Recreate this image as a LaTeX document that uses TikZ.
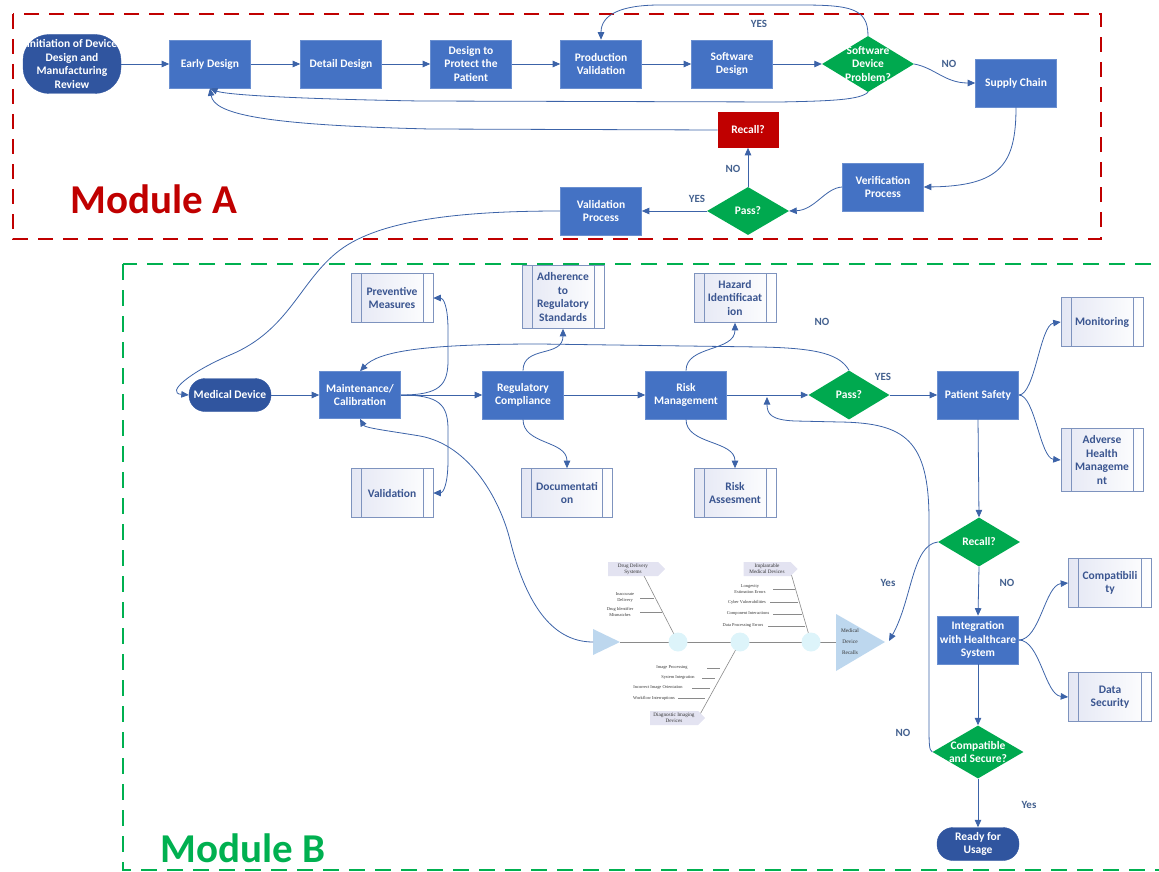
\documentclass[tikz,border=0pt]{standalone}
\usepackage{fontspec}
\setmainfont{Carlito}
\newfontfamily\fbfont{Liberation Serif}
\usetikzlibrary{arrows.meta,shapes.geometric,shapes.symbols}

\definecolor{boxblue}{HTML}{4472C4}
\definecolor{boxedge}{HTML}{6A8FD0}
\definecolor{stadium}{HTML}{30559F}
\definecolor{decgreen}{HTML}{00A94F}
\definecolor{recallred}{HTML}{C00000}
\definecolor{linkblue}{HTML}{3C63A8}
\definecolor{lbltext}{HTML}{44618F}
\definecolor{subedge}{HTML}{7E93BE}
\definecolor{subtext}{HTML}{3A5590}
\definecolor{subfill}{HTML}{E4E7F4}
\definecolor{modred}{HTML}{C00000}
\definecolor{modgreen}{HTML}{00B050}
\definecolor{fbblue}{HTML}{BDD7EE}
\definecolor{fbcirc}{HTML}{DDF4FA}
\definecolor{fbtagfill}{HTML}{E3E3F1}
\definecolor{fbline}{HTML}{8A8A8A}
\definecolor{fbink}{HTML}{333333}

\tikzset{
  boxfont/.style={font=\bfseries\fontsize{11.5}{13.6}\selectfont},
  proc/.style={rectangle, fill=boxblue, draw=boxedge, line width=0.6pt,
    minimum width=81pt, minimum height=48pt, inner sep=1pt,
    text=white, align=center, boxfont},
  startend/.style={rectangle, rounded corners=16pt, fill=stadium, draw=stadium,
    text=white, align=center, boxfont, inner sep=1pt},
  decision/.style={diamond, fill=decgreen, draw=none, inner sep=0pt},
  dtext/.style={text=white, boxfont, align=center},
  sub/.style={rectangle, draw=subedge, line width=0.6pt,
    left color=subfill, right color=white,
    minimum width=82pt, minimum height=49pt, inner sep=1pt,
    text=subtext, align=center, boxfont,
    path picture={\draw[subedge, line width=0.6pt]
      ([xshift=10pt]path picture bounding box.north west) --
      ([xshift=10pt]path picture bounding box.south west)
      ([xshift=-10pt]path picture bounding box.north east) --
      ([xshift=-10pt]path picture bounding box.south east);}},
  link/.style={draw=linkblue, line width=0.8pt, -{Triangle[length=7.5pt,width=6.5pt]}},
  lbl/.style={text=lbltext, font=\bfseries\fontsize{11}{12}\selectfont},
  modtitle/.style={font=\bfseries\fontsize{41}{44}\selectfont, anchor=base west},
  fbtag/.style={signal, signal to=east, signal from=nowhere, fill=fbtagfill,
    draw=none, inner sep=0pt, text=fbink, align=center,
    font=\fbfont\fontsize{5.2}{6.2}\selectfont, minimum height=14pt},
  fbtxt/.style={text=fbink, align=center, inner sep=0pt,
    font=\fbfont\fontsize{4.4}{6}\selectfont},
  fbbone/.style={draw=fbline, line width=0.6pt},
  fbtick/.style={draw=fbline, line width=0.4pt},
}

\begin{document}
\begin{tikzpicture}[x=1pt,y=-1pt]
\useasboundingbox (0,0) rectangle (1159,872);
\clip (0,0) rectangle (1159,872);

% ---------- module frames ----------
\draw[modred, line width=1.9pt, dash pattern=on 15pt off 10pt] (13,14) rectangle (1101,239);
\draw[modgreen, line width=1.9pt, dash pattern=on 16pt off 10pt] (123,264) rectangle (1175,870);
\node[modtitle, text=modred] (titleA) at (67,213) {Module A};
\node[modtitle, text=modgreen] (titleB) at (157,862) {Module B};

% ---------- Module A nodes ----------
\node[startend, rounded corners=26pt, minimum width=98pt, minimum height=59pt,
  label={[dtext]center:Initiation of Device\\Design and\\Manufacturing\\Review}] (init) at (72,64) {};
\node[proc] (early) at (210,64) {Early Design};
\node[proc] (detail) at (341,64) {Detail Design};
\node[proc] (protect) at (471,64) {Design to\\Protect the\\Patient};
\node[proc] (prodval) at (601,64) {Production\\Validation};
\node[proc] (swdesign) at (732,64) {Software\\Design};
\node[decision, minimum width=92pt, minimum height=56pt,
  label={[dtext]center:Software\\Device\\Problem?}] (swprob) at (868,64) {};
\node[proc] (supply) at (1016,83) {Supply Chain};
\node[proc] (verif) at (883,187) {Verification\\Process};
\node[decision, minimum width=82pt, minimum height=48pt,
  label={[dtext]center:Pass?}] (passA) at (748,211) {};
\node[proc] (valproc) at (601,211) {Validation\\Process};
\node[proc, fill=recallred, draw=recallred, minimum width=60pt, minimum height=35pt] (recallA) at (748,130) {Recall?};

% ---------- Module A connectors ----------
\draw[link] (init.east) -- (early.west);
\draw[link] (early.east) -- (detail.west);
\draw[link] (detail.east) -- (protect.west);
\draw[link] (protect.east) -- (prodval.west);
\draw[link] (prodval.east) -- (swdesign.west);
\draw[link] (swdesign.east) -- (swprob.west);
\draw[link] (swprob.north) .. controls (868,8) and (850,5) .. (800,5) -- (660,5)
  .. controls (620,5) and (601,15) .. (prodval.north);
\draw[link] (swprob.south) .. controls (860,100) and (830,101) .. (780,102) -- (420,101)
  .. controls (300,99) and (226,95) .. (early.south);
\draw[link] (recallA.west) -- (430,129) .. controls (262,125) and (214,114) .. (early.south);
\draw[link] (swprob.east) .. controls (935,68) and (945,83) .. (supply.west);
\draw[link] (supply.south) .. controls (1016,165) and (1000,186) .. (verif.east);
\draw[link] (verif.west) .. controls (825,188) and (815,210) .. (passA.east);
\draw[link] (passA.north) -- (recallA.south);
\draw[link] (passA.west) -- (valproc.east);

\node[lbl] (yesA1) at (759,24) {YES};
\node[lbl] (noA1) at (949,64) {NO};
\node[lbl] (noA2) at (733,169) {NO};
\node[lbl] (yesA2) at (697,199) {YES};

% ---------- Module B nodes ----------
\node[startend, minimum width=82pt, minimum height=33pt] (meddev) at (230,395) {Medical Device};
\node[proc, minimum height=47pt] (maint) at (360,395) {Maintenance/\\Calibration};
\node[proc] (regcomp) at (523,395) {Regulatory\\Compliance};
\node[proc] (riskman) at (686,395) {Risk\\Management};
\node[decision, minimum width=81pt, minimum height=49pt,
  label={[dtext]center:Pass?}] (passB) at (849,395) {};
\node[proc] (psafety) at (978,395) {Patient Safety};

\node[sub] (prevent) at (392,298) {Preventive\\Measures};
\node[sub] (valsub) at (392,493) {Validation};
\node[sub, minimum height=63pt] (adhere) at (563,297) {Adherence\\to\\Regulatory\\Standards};
\node[sub, minimum width=91pt] (docu) at (567,493) {Documentati\\on};
\node[sub] (hazard) at (735,298) {Hazard\\Identificaat\\ion};
\node[sub] (riskass) at (735,493) {Risk\\Assesment};
\node[sub] (monit) at (1102,322) {Monitoring};
\node[sub, minimum height=63pt] (adverse) at (1102,460) {Adverse\\Health\\Manageme\\nt};
\node[sub, minimum width=83pt] (compat) at (1110,583) {Compatibili\\ty};
\node[sub, minimum width=83pt] (datasec) at (1110,697) {Data\\Security};

\node[decision, minimum width=82pt, minimum height=49pt,
  label={[dtext]center:Recall?}] (recallB) at (979,542) {};
\node[proc] (integ) at (978,640) {Integration\\with Healthcare\\System};
\node[decision, minimum width=91pt, minimum height=53pt,
  label={[dtext]center:Compatible\\and Secure?}] (compsec) at (978,752) {};
\node[startend, minimum width=82pt, minimum height=33pt] (ready) at (978,844) {Ready for\\Usage};

% ---------- fishbone of recall causes ----------
\coordinate (fbtail) at (593,642);
\coordinate (fbhead) at (889,641);
\fill[fbblue] (593,629) -- (620,642) -- (593,655) -- cycle;
\draw[fbbone] (620,642) -- (836,642);
\draw[fbbone] (678,642) -- (642,572);
\draw[fbbone] (740,642) -- (698,718);
\draw[fbbone] (811,642) -- (790,570);
\foreach \cx in {678,740,811} \fill[fbcirc] (\cx,642) circle (9.5);
\fill[fbblue] (836,614) -- (885,642) -- (836,671) -- cycle;
\node[fbtxt, font=\fbfont\fontsize{5.4}{11}\selectfont] (fbrecalls) at (850,642) {Medical\\Device\\Recalls};

\node[fbtag, minimum width=57pt] (tagdrug) at (633,569) {Drug Delivery\\Systems};
\node[fbtag, minimum width=54pt] (tagimpl) at (767,569) {Implantable\\Medical Devices};
\node[fbtag, minimum width=55pt] (tagdiag) at (674,718) {Diagnostic Imaging\\Devices};

\foreach \t/\x/\y/\a/\b [count=\i] in {
  {Inaccurate\\Delivery}/625/598/640/654,
  {Drug Identifier\\Mismatches}/620/612/640/662,
  {Longevity\\Estimation Errors}/750/589/773/795,
  {Cyber Vulnerabilities}/747/602/770/798,
  {Component Interactions}/748/614/773/802,
  {Data Processing Errors}/743/626/768/805,
  {Image Processing}/672/668/707/720,
  {System Integration}/678/678/702/715,
  {Incorrect Image Orientation}/658/688/692/710,
  {Workflow Interruptions}/654/698/678/705}
{
  \node[fbtxt] (fbcause\i) at (\x,\y) {\t};
  \draw[fbtick] (\a,\y) -- (\b,\y);
}

% ---------- Module B connectors ----------
\draw[link] (valproc.west) .. controls (460,211) and (380,220) .. (340,250)
  .. controls (300,280) and (290,330) .. (230,355)
  .. controls (190,372) and (165,393) .. (meddev.west);
\draw[link] (meddev.east) -- (maint.west);
\draw[link] (maint.east) -- (regcomp.west);
\draw[link] (regcomp.east) -- (riskman.west);
\draw[link] (riskman.east) -- (passB.west);
\draw[link] (passB.east) -- (psafety.west);
\draw[link] (psafety.south) -- (recallB.north);
\draw[link] (recallB.south) -- (integ.north);
\draw[link] (integ.south) -- (compsec.north);
\draw[link] (compsec.south) -- (ready.north);

\draw[link] (maint.east) .. controls (440,395) and (448,385) .. (448,360) -- (448,330)
  .. controls (448,305) and (443,298) .. (prevent.east);
\draw[link] (maint.east) .. controls (440,395) and (448,405) .. (448,430) -- (448,460)
  .. controls (448,485) and (443,493) .. (valsub.east);
\draw[link] (passB.north) .. controls (840,355) and (820,348) .. (760,347) -- (540,344)
  .. controls (420,344) and (378,352) .. (maint.north);
\draw[link] (regcomp.north) .. controls (523,345) and (563,358) .. (adhere.south);
\draw[link] (regcomp.south) .. controls (523,445) and (567,440) .. (docu.north);
\draw[link] (riskman.north) .. controls (686,345) and (735,352) .. (hazard.south);
\draw[link] (riskman.south) .. controls (686,445) and (735,440) .. (riskass.north);
\draw[link] (psafety.east) .. controls (1035,395) and (1040,325) .. (monit.west);
\draw[link] (psafety.east) .. controls (1035,395) and (1040,458) .. (adverse.west);
\draw[link] (integ.east) .. controls (1040,640) and (1045,585) .. (compat.west);
\draw[link] (integ.east) .. controls (1040,640) and (1045,695) .. (datasec.west);
\draw[link] (recallB.west) .. controls (912,545) and (912,600) .. (fbhead);

\coordinate (nojoin) at (767,397);
\draw[link] (compsec.west) .. controls (929,750) and (929,745) .. (929,720) -- (929,520)
  .. controls (929,440) and (905,423) .. (840,422) -- (795,421)
  .. controls (771,420) and (767,414) .. (nojoin);
\draw[link] (fbtail) .. controls (550,642) and (525,600) .. (510,540)
  .. controls (500,500) and (470,445) .. (420,436)
  .. controls (390,431) and (365,428) .. (maint.south);

\node[lbl] (noB1) at (822,322) {NO};
\node[lbl] (yesB1) at (883,377) {YES};
\node[lbl] (yesB2) at (888,583) {Yes};
\node[lbl] (noB2) at (1007,583) {NO};
\node[lbl] (noB3) at (903,733) {NO};
\node[lbl] (yesB3) at (1029,805) {Yes};
\end{tikzpicture}
\end{document}
